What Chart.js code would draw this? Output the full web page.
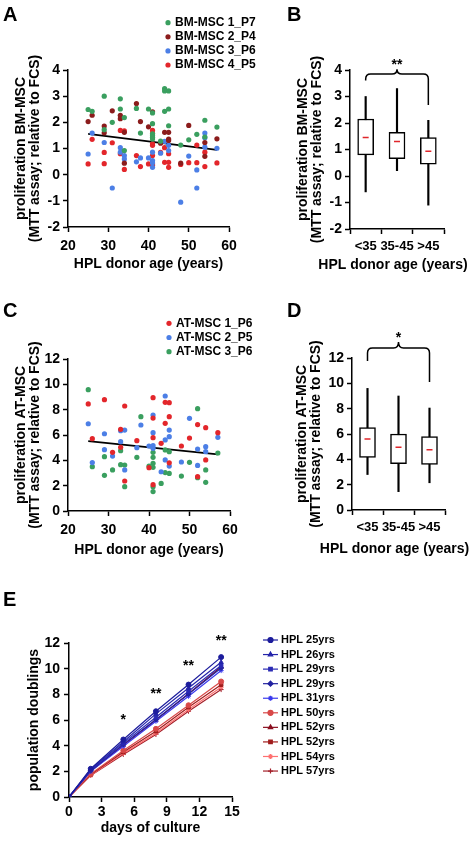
<!DOCTYPE html>
<html>
<head>
<meta charset="utf-8">
<script src="https://cdn.jsdelivr.net/npm/chart.js@4.4.1/dist/chart.umd.min.js"></script>
<style>
  body { margin: 0; background: #fff; }
  #fig { position: relative; width: 470px; height: 845px; overflow: hidden; font-family: 'Liberation Sans', Arial, sans-serif; }
  #fig canvas { position: absolute; }
  .lbl { position: absolute; font-weight: bold; font-size: 20px; line-height: 1; }
</style>
</head>
<body>
<div id="fig">
  <canvas id="cA" width="285" height="290" style="left:0;top:0"></canvas>
  <canvas id="cB" width="185" height="290" style="left:285px;top:0"></canvas>
  <canvas id="cC" width="285" height="290" style="left:0;top:290px"></canvas>
  <canvas id="cD" width="185" height="290" style="left:285px;top:290px"></canvas>
  <canvas id="cE" width="470" height="265" style="left:0;top:580px"></canvas>
  <div class="lbl" style="left:3px;top:4px">A</div>
  <div class="lbl" style="left:287px;top:4px">B</div>
  <div class="lbl" style="left:3px;top:300px">C</div>
  <div class="lbl" style="left:287px;top:300px">D</div>
  <div class="lbl" style="left:3px;top:589px">E</div>
</div>
<script>
// ---- panel A: BM-MSC proliferation vs donor age [age, value]
const bm1 = [[25,2.49],[26,2.42],[29,3.0],[29,1.72],[31,2.0],[33,2.9],[33,2.51],[34,2.18],[34,0.92],[37,2.53],[38,1.59],[40,2.51],[41,2.36],[41,1.95],[41,1.56],[41,1.5],[41,1.43],[41,1.36],[43,1.28],[44,3.29],[44,3.2],[44,2.42],[45,3.2],[45,2.51],[45,1.87],[48,1.13],[50,1.33],[52,1.54],[54,2.08],[54,1.44],[57,1.82]];
const bm2 = [[25,2.03],[26,2.27],[29,1.86],[29,1.6],[31,2.44],[33,2.27],[33,2.14],[34,1.62],[34,0.44],[37,2.72],[38,2.03],[40,1.83],[41,2.4],[43,1.2],[44,1.62],[45,1.62],[45,1.36],[45,1.31],[48,0.44],[50,1.88],[54,1.23],[54,0.7],[57,1.37]];
const bm3 = [[25,0.79],[26,1.59],[29,1.23],[31,-0.51],[33,1.03],[33,0.86],[34,0.73],[34,0.6],[37,0.49],[38,0.64],[40,0.64],[41,0.86],[41,0.54],[41,0.46],[41,0.28],[43,0.82],[44,1.27],[45,1.12],[45,0.92],[48,-1.05],[50,0.71],[52,0.18],[52,-0.51],[54,1.59],[54,1.41],[54,1.05],[57,1.01]];
const bm4 = [[25,0.41],[26,1.35],[29,0.85],[29,0.42],[31,1.22],[33,1.69],[33,0.8],[34,1.67],[34,0.2],[37,0.73],[38,0.31],[40,0.41],[41,1.69],[41,1.56],[41,1.18],[41,1.12],[41,0.73],[41,0.41],[41,0.35],[43,0.85],[44,1.03],[44,0.47],[45,0.8],[45,0.47],[45,0.28],[48,0.39],[50,0.46],[52,1.13],[52,0.46],[54,0.86],[54,0.31],[57,0.45]];
const trendA = [[25,1.56],[57,0.95]];

// ---- panel C: AT-MSC proliferation vs donor age
const at1 = [[25,8.45],[26,5.71],[29,8.79],[31,4.63],[33,6.45],[33,5.03],[34,8.29],[34,2.37],[37,5.55],[40,3.42],[41,8.95],[41,7.34],[41,5.79],[41,2.08],[43,5.34],[44,8.58],[44,6.92],[45,8.55],[45,7.45],[45,3.8],[48,5.13],[50,5.76],[52,6.82],[52,2.71],[54,6.58],[54,4.03],[57,6.18]];
const at2 = [[25,6.89],[26,3.82],[29,6.1],[29,4.84],[31,4.34],[33,6.34],[33,5.47],[34,6.39],[34,3.24],[37,5.0],[38,6.79],[40,5.13],[41,7.58],[41,6.18],[41,5.16],[41,4.95],[43,3.1],[44,9.08],[44,5.61],[44,4.03],[45,6.39],[45,5.87],[45,3.55],[48,3.87],[50,7.32],[52,4.89],[52,3.6],[54,5.08],[54,4.68],[57,5.82]];
const at3 = [[25,9.58],[26,3.5],[29,4.29],[29,2.82],[31,3.24],[33,4.76],[33,3.66],[34,3.63],[34,1.92],[37,4.24],[38,7.45],[40,3.55],[41,4.63],[41,4.24],[41,3.76],[41,3.45],[41,1.92],[41,1.53],[43,2.18],[44,4.82],[44,3.03],[45,4.68],[45,2.97],[48,2.76],[50,3.84],[52,8.08],[52,2.63],[54,3.24],[54,2.26],[57,4.58]];
const trendC = [[25,5.52],[57,4.47]];

// ---- panels B and D: box plots by age group
const ageGroups = ['<35', '35-45', '>45'];
const bmMin = [-0.6, 0.2, -1.1];
const bmQ1 = [0.8, 0.65, 0.45];
const bmMed = [1.45, 1.3, 0.93];
const bmQ3 = [2.15, 1.65, 1.45];
const bmMax = [3.0, 3.3, 2.1];
const atMin = [2.8, 1.45, 2.15];
const atQ1 = [4.15, 3.65, 3.6];
const atMed = [5.6, 4.95, 4.75];
const atQ3 = [6.5, 6.0, 5.8];
const atMax = [9.6, 9.0, 8.05];

// ---- panel E: population doublings
const days = [0, 2, 5, 8, 11, 14];
const hpl25 = [0, 2.2, 4.48, 6.68, 8.76, 10.9];
const hpl26 = [0, 2.15, 4.3, 6.48, 8.5, 10.5];
const hpl29a = [0, 2.1, 4.2, 6.22, 8.24, 10.25];
const hpl29b = [0, 2.05, 4.1, 6.04, 8.03, 10.05];
const hpl31 = [0, 2.0, 3.96, 5.9, 7.85, 9.85];
const hpl50 = [0, 1.8, 3.63, 5.31, 7.15, 9.0];
const hpl52a = [0, 2.0, 4.05, 6.0, 8.05, 10.15];
const hpl52b = [0, 1.75, 3.5, 5.13, 7.0, 8.75];
const hpl54 = [0, 1.7, 3.4, 4.97, 6.81, 8.55];
const hpl57 = [0, 1.68, 3.32, 4.87, 6.68, 8.37];
const sigDays = [5, 8, 11, 14];
const sigY = [6.23, 8.28, 10.44, 12.34];
const sigText = ['*', '**', '**', '**'];

const FONT = "'Liberation Sans', Arial, sans-serif";
Chart.defaults.font.family = FONT;
Chart.defaults.font.weight = 'bold';
Chart.defaults.color = '#000';
Chart.defaults.animation = false;
Chart.defaults.responsive = false;
Chart.defaults.plugins.legend.display = false;
Chart.defaults.plugins.tooltip.enabled = false;

const GREEN = '#3a9f5f', DARKRED = '#8b1c1c', BLUE = '#4c7fe6', RED = '#e3262b';

function axis(o) {
  return {
    type: o.type || 'linear',
    min: o.min, max: o.max,
    border: { color: '#000', width: 1.5 },
    grid: { drawOnChartArea: false, tickLength: 5, tickColor: '#000', tickWidth: 1.5, offset: !!o.offset },
    ticks: { stepSize: o.step, padding: o.pad, font: { size: o.tickSize || 14 }, autoSkip: false, maxRotation: 0 },
    title: { display: !!o.title, text: o.title, font: { size: 14, lineHeight: 1 }, padding: o.titlePad || { top: 0, bottom: 0 } },
    afterFit: s => { if (s.isHorizontal()) s.height = o.size; else s.width = o.size; }
  };
}

function dots(label, pts, color) {
  return { label: label, data: pts.map(p => ({ x: p[0], y: p[1] })), backgroundColor: color,
    pointRadius: 2.6, pointBorderWidth: 0 };
}
function trend(pts) {
  return { data: pts.map(p => ({ x: p[0], y: p[1] })), showLine: true, borderColor: '#000',
    borderWidth: 1.8, pointRadius: 0 };
}

// legend with coloured dots (panels A and C)
const dotLegend = {
  id: 'dotLegend',
  afterDraw(chart, args, o) {
    const ctx = chart.ctx;
    ctx.save();
    ctx.font = 'bold ' + o.size + 'px ' + FONT;
    ctx.textBaseline = 'middle';
    let y = o.y;
    chart.data.datasets.forEach(ds => {
      if (!ds.label) return;
      ctx.fillStyle = ds.backgroundColor;
      ctx.beginPath();
      ctx.arc(o.x, y, 2.6, 0, Math.PI * 2);
      ctx.fill();
      ctx.fillStyle = '#000';
      ctx.fillText(ds.label, o.x + 7, y);
      y += o.step;
    });
    ctx.restore();
  }
};

// legend with line + marker (panel E)
const lineLegend = {
  id: 'lineLegend',
  afterDraw(chart, args, o) {
    const ctx = chart.ctx;
    ctx.save();
    ctx.font = 'bold ' + o.size + 'px ' + FONT;
    ctx.textBaseline = 'middle';
    let y = o.y;
    chart.data.datasets.forEach(ds => {
      ctx.strokeStyle = ds.borderColor;
      ctx.fillStyle = ds.borderColor;
      ctx.lineWidth = 1.2;
      ctx.beginPath();
      ctx.moveTo(o.x, y);
      ctx.lineTo(o.x + o.len, y);
      ctx.stroke();
      Chart.helpers.drawPoint(ctx, { pointStyle: ds.pointStyle, radius: 2.5, borderWidth: 1, rotation: 0 }, o.x + o.len / 2, y);
      ctx.fillStyle = '#000';
      ctx.fillText(ds.label, o.x + o.len + 3, y);
      y += o.step;
    });
    ctx.restore();
  }
};

// curly bracket with significance stars + x title (panels B and D)
const brace = {
  id: 'brace',
  afterDraw(chart, args, o) {
    const xs = chart.scales.x, ys = chart.scales.y, ctx = chart.ctx;
    const x0 = xs.getPixelForValue(o.from), x1 = xs.getPixelForValue(o.to), xm = (x0 + x1) / 2;
    const yl = ys.getPixelForValue(o.left), yt = ys.getPixelForValue(o.top);
    const yp = ys.getPixelForValue(o.peak), yr = ys.getPixelForValue(o.right);
    const r = 5;
    ctx.save();
    ctx.strokeStyle = '#000';
    ctx.lineWidth = 1.5;
    ctx.beginPath();
    ctx.moveTo(x0, yl);
    ctx.lineTo(x0, yt + r);
    ctx.quadraticCurveTo(x0, yt, x0 + r, yt);
    ctx.lineTo(xm - r, yt);
    ctx.quadraticCurveTo(xm, yt, xm, yp);
    ctx.quadraticCurveTo(xm, yt, xm + r, yt);
    ctx.lineTo(x1 - r, yt);
    ctx.quadraticCurveTo(x1, yt, x1, yt + r);
    ctx.lineTo(x1, yr);
    ctx.stroke();
    ctx.fillStyle = '#000';
    ctx.font = 'bold 14px ' + FONT;
    ctx.textAlign = 'center';
    ctx.textBaseline = 'middle';
    ctx.fillText(o.text, xm, ys.getPixelForValue(o.textY) + 3);
    // axis title drawn here so it is not squeezed to the narrow plot width
    ctx.fillText(o.xTitle, xm - 4, chart.chartArea.bottom + o.xTitleGap);
    ctx.restore();
  }
};

// stars above the growth curves (panel E)
const stars = {
  id: 'stars',
  afterDraw(chart) {
    const xs = chart.scales.x, ys = chart.scales.y, ctx = chart.ctx;
    ctx.save();
    ctx.fillStyle = '#000';
    ctx.font = 'bold 14px ' + FONT;
    ctx.textAlign = 'center';
    ctx.textBaseline = 'middle';
    sigDays.forEach((d, i) => ctx.fillText(sigText[i], xs.getPixelForValue(d), ys.getPixelForValue(sigY[i]) + 3));
    ctx.restore();
  }
};

const bmTitle = ['proliferation BM-MSC', '(MTT assay; relative to FCS)'];
const atTitle = ['proliferation AT-MSC', '(MTT assay; relative to FCS)'];
const ageTitle = 'HPL donor age (years)';

// A
new Chart(document.getElementById('cA'), {
  type: 'scatter',
  data: { datasets: [dots('BM-MSC 1_P7', bm1, GREEN), dots('BM-MSC 2_P4', bm2, DARKRED),
    dots('BM-MSC 3_P6', bm3, BLUE), dots('BM-MSC 4_P5', bm4, RED), trend(trendA)] },
  options: {
    layout: { padding: { left: 0, top: 70, right: 56, bottom: 19 } },
    scales: {
      x: axis({ min: 20, max: 60, step: 10, title: ageTitle, size: 44, pad: 6 }),
      y: axis({ min: -2, max: 4, step: 1, title: bmTitle, size: 68, pad: 3, titlePad: { top: 14, bottom: 0 } })
    },
    plugins: { dotLegend: { x: 168, y: 22.7, step: 14.1, size: 12 } }
  },
  plugins: [dotLegend]
});

// C
new Chart(document.getElementById('cC'), {
  type: 'scatter',
  data: { datasets: [dots('AT-MSC 1_P6', at1, RED), dots('AT-MSC 2_P5', at2, BLUE),
    dots('AT-MSC 3_P6', at3, GREEN), trend(trendC)] },
  options: {
    layout: { padding: { left: 0, top: 69, right: 55, bottom: 23 } },
    scales: {
      x: axis({ min: 20, max: 60, step: 10, title: ageTitle, size: 46, pad: 6 }),
      y: axis({ min: 0, max: 12, step: 2, title: atTitle, size: 68, pad: 3, titlePad: { top: 14, bottom: 0 } })
    },
    plugins: { dotLegend: { x: 169, y: 33.3, step: 14.2, size: 12 } }
  },
  plugins: [dotLegend]
});

function boxSets(q1, q3, lo, hi, med) {
  return [
    { data: ageGroups.map((g, i) => [q1[i], q3[i]]), backgroundColor: '#fff', borderColor: '#000',
      borderWidth: 1.5, borderSkipped: false, barThickness: 16, grouped: false, order: 1 },
    { data: ageGroups.map((g, i) => [lo[i], hi[i]]), backgroundColor: '#000', borderWidth: 0,
      barThickness: 1.5, grouped: false, order: 2 },
    { type: 'line', data: med, showLine: false, pointStyle: 'line', pointRadius: 3,
      borderColor: '#e0262b', pointBorderColor: '#e0262b', pointBorderWidth: 1.5, order: 0 }
  ];
}

// B
new Chart(document.getElementById('cB'), {
  type: 'bar',
  data: { labels: ageGroups, datasets: boxSets(bmQ1, bmQ3, bmMin, bmMax, bmMed) },
  options: {
    layout: { padding: { left: 0, top: 70, right: 26, bottom: 18 } },
    scales: {
      x: axis({ type: 'category', offset: true, size: 43, pad: 5, tickSize: 13 }),
      y: axis({ min: -2, max: 4, step: 1, title: bmTitle, size: 65, pad: 3, titlePad: { top: 11, bottom: 0 } })
    },
    plugins: { brace: { from: 0, to: 2, left: 3.6, top: 3.85, peak: 4.03, right: 2.68, text: '**', textY: 4.3,
      xTitle: ageTitle, xTitleGap: 36 } }
  },
  plugins: [brace]
});

// D
new Chart(document.getElementById('cD'), {
  type: 'bar',
  data: { labels: ageGroups, datasets: boxSets(atQ1, atQ3, atMin, atMax, atMed) },
  options: {
    layout: { padding: { left: 0, top: 68, right: 25, bottom: 24 } },
    scales: {
      x: axis({ type: 'category', offset: true, size: 46, pad: 5, tickSize: 13 }),
      y: axis({ min: 0, max: 12, step: 2, title: atTitle, size: 67, pad: 3, titlePad: { top: 10, bottom: 0 } })
    },
    plugins: { brace: { from: 0, to: 2, left: 11.76, top: 12.79, peak: 13.26, right: 10.1, text: '*', textY: 13.8,
      xTitle: ageTitle, xTitleGap: 39 } }
  },
  plugins: [brace]
});

// E
function growth(label, vals, color, style) {
  return { label: label, data: days.map((d, i) => ({ x: d, y: vals[i] })), borderColor: color,
    backgroundColor: color, borderWidth: 1.2, pointStyle: style, pointRadius: 2.5,
    pointBorderWidth: 1, tension: 0 };
}
new Chart(document.getElementById('cE'), {
  type: 'line',
  data: { datasets: [
    growth('HPL 25yrs', hpl25, '#1c1c9c', 'circle'),
    growth('HPL 26yrs', hpl26, '#2424aa', 'triangle'),
    growth('HPL 29yrs', hpl29a, '#2a2ab4', 'rect'),
    growth('HPL 29yrs', hpl29b, '#2222a0', 'rectRot'),
    growth('HPL 31yrs', hpl31, '#3a3aee', 'star'),
    growth('HPL 50yrs', hpl50, '#d84848', 'circle'),
    growth('HPL 52yrs', hpl52a, '#8b1020', 'triangle'),
    growth('HPL 52yrs', hpl52b, '#a01c1c', 'rect'),
    growth('HPL 54yrs', hpl54, '#ff7070', 'star'),
    growth('HPL 57yrs', hpl57, '#a3202a', 'cross')
  ] },
  options: {
    layout: { padding: { left: 0, top: 63, right: 238, bottom: 10 } },
    scales: {
      x: axis({ min: 0, max: 15, step: 3, title: 'days of culture', size: 38, pad: 2 }),
      y: axis({ min: 0, max: 12, step: 2, title: 'population doublings', size: 69, pad: 4, titlePad: { top: 27, bottom: 0 } })
    },
    plugins: { lineLegend: { x: 263, y: 60, step: 14.56, len: 15, size: 11 } }
  },
  plugins: [lineLegend, stars]
});
</script>
</body>
</html>
